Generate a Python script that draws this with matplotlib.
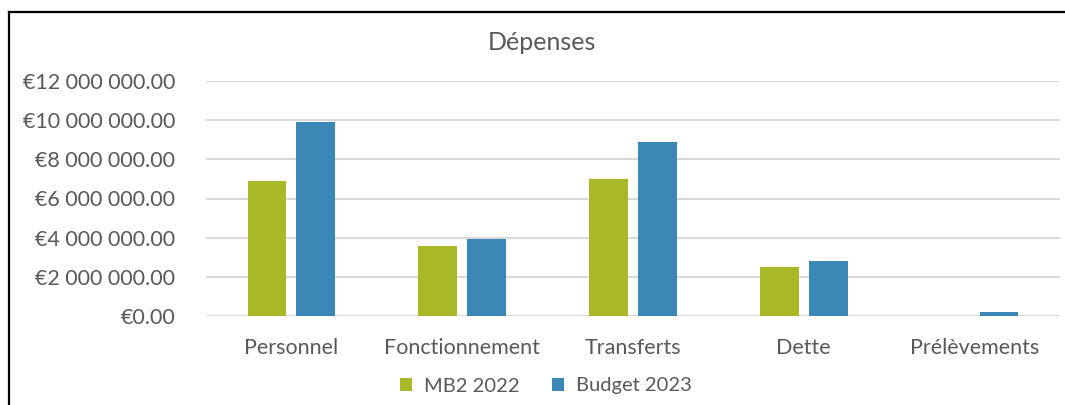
import numpy as np
import matplotlib
matplotlib.use("Agg")
import matplotlib.pyplot as plt
from matplotlib.lines import Line2D
from matplotlib.ticker import FuncFormatter

categories = ["Personnel", "Fonctionnement", "Transferts", "Dette", "Prélèvements"]
mb2_2022 = [6.90e6, 3.60e6, 6.99e6, 2.48e6, 0.0]
budget_2023 = [9.89e6, 3.94e6, 8.88e6, 2.79e6, 0.22e6]
series_names = ["MB2 2022", "Budget 2023"]
yticks = [0, 2e6, 4e6, 6e6, 8e6, 10e6, 12e6]

plt.rcParams["font.family"] = ["Lato", "DejaVu Sans"]
text_col = "#595959"
green = "#a8b826"
blue = "#3b88b7"


def euro(v, pos=None):
    if v == 0:
        return "€0.00"
    return "€" + f"{v:,.2f}".replace(",", " ")


fig = plt.figure(figsize=(10.65, 4.05), dpi=100)
ax = fig.add_axes([206 / 1065, 1 - 316 / 405, (1060 - 206) / 1065, (316 - 81) / 405])

x = np.arange(len(categories))
w = 0.228
off = 0.143
ax.bar(x - off, mb2_2022, w, color=green, label=series_names[0], zorder=3)
ax.bar(x + off, budget_2023, w, color=blue, label=series_names[1], zorder=3)

ax.set_xlim(-0.5, len(categories) - 0.5)
ax.set_ylim(0, 12e6)
ax.set_yticks(yticks)
ax.yaxis.set_major_formatter(FuncFormatter(euro))
ax.set_xticks(x)
ax.set_xticklabels(categories)
ax.grid(axis="y", color="#d9d9d9", linewidth=1.5, zorder=0)
ax.tick_params(axis="both", length=0, labelsize=15.5, labelcolor=text_col)
ax.tick_params(axis="y", pad=22)
ax.tick_params(axis="x", pad=16)
for s in ax.spines.values():
    s.set_visible(False)

fig.text(542 / 1065, 1 - 43 / 405, "Dépenses", ha="center", va="center",
         fontsize=18, color=text_col)

fig.legend(loc="center", bbox_to_anchor=(546 / 1065, 1 - 386 / 405), ncol=2,
           frameon=False, fontsize=14.5, labelcolor=text_col, handlelength=0.6,
           handleheight=0.6, handletextpad=0.6, columnspacing=1.6)

# outer frame (top and left edges only visible)
fig.add_artist(Line2D([9 / 1065, 1], [1 - 12 / 405, 1 - 12 / 405], color="black",
                      linewidth=1.6, transform=fig.transFigure))
fig.add_artist(Line2D([9 / 1065, 9 / 1065], [0, 1 - 12 / 405], color="black",
                      linewidth=1.6, transform=fig.transFigure))

fig.savefig("out.png", dpi=100)
